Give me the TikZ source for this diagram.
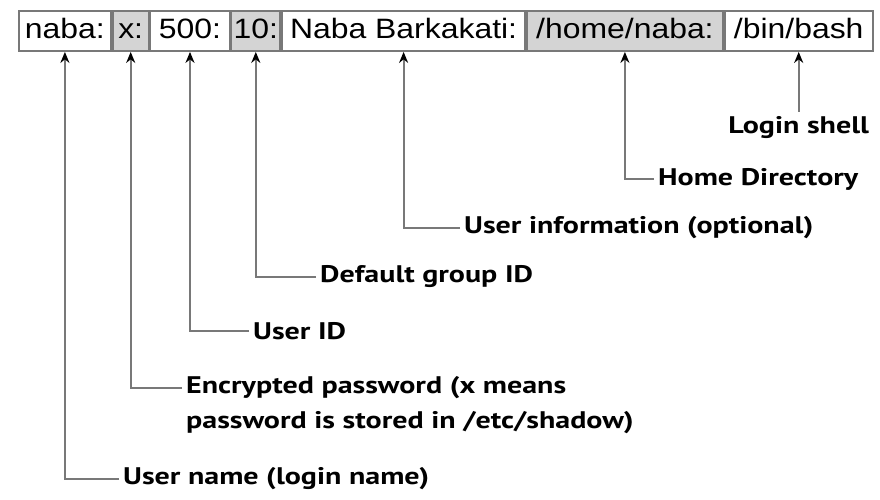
\documentclass[tikz,border=0pt]{standalone}
\usepackage{fontspec}
\setmainfont{Liberation Sans}
\newfontfamily\cellfont[FakeStretch=1.14]{Liberation Sans}
\newfontfamily\notefont[FakeStretch=1.25]{PT Sans}
\usetikzlibrary{positioning}
\usetikzlibrary{arrows.meta}

\definecolor{cellgray}{RGB}{212,212,212}
\definecolor{linegray}{RGB}{120,120,120}

\tikzset{
    cell/.style = {draw = linegray, line width = 1.8pt, minimum height = 40pt,
                   inner sep = 0pt, text height = 20pt, text depth = 6pt,
                   font = \cellfont\fontsize{28}{30}\selectfont},
    shaded/.style = {cell, fill = cellgray},
    note/.style = {anchor = west, inner sep = 4pt, align = left,
                   font = \notefont\bfseries\fontsize{24}{36}\selectfont},
    pointer/.style = {draw = linegray, line width = 2pt,
                      -{Stealth[black, length = 11pt, width = 9pt]}}
}

\begin{document}
\begin{tikzpicture}[x = 1pt, y = -1pt]

    \useasboundingbox (0,0) rectangle (880,499);

    % the record
    \node (user)  at (18,31) [cell, anchor = west, minimum width = 92pt] {naba:};
    \node (pass)  [shaded, minimum width = 36pt,  right = 0pt of user]  {x:};
    \node (uid)   [cell,   minimum width = 79pt,  right = 0pt of pass]  {500:};
    \node (gid)   [shaded, minimum width = 49pt,  right = 0pt of uid]   {10:};
    \node (info)  [cell,   minimum width = 243pt, right = 0pt of gid]   {Naba Barkakati:};
    \node (home)  [shaded, minimum width = 196pt, right = 0pt of info]  {/home/naba:};
    \node (shell) [cell,   minimum width = 148pt, right = 0pt of home]  {/bin/bash};

    % the notes
    \node (shellnote) [note, below = 60pt of shell] {Login shell};
    \node (homenote)  at (654,179) [note] {Home Directory};
    \node (infonote)  at (460,228) [note] {User information (optional)};
    \node (gidnote)   at (316,277) [note] {Default group ID};
    \node (uidnote)   at (249,331) [note] {User ID};
    \node (passnote)  at (182,388) [note] {Encrypted password (x means};
    \node (passnote2) at (182,423) [note] {password is stored in /etc/shadow)};
    \node (usernote)  at (119,479) [note] {User name (login name)};

    % pointers
    \draw[pointer] (shellnote) -- (shell);
    \draw[pointer] (homenote.west) -| (home);
    \draw[pointer] (infonote.west) -| (info);
    \draw[pointer] (gidnote.west) -| (gid);
    \draw[pointer] (uidnote.west) -| (uid);
    \draw[pointer] (passnote.west) -| (pass);
    \draw[pointer] (usernote.west) -| (user);

\end{tikzpicture}
\end{document}
